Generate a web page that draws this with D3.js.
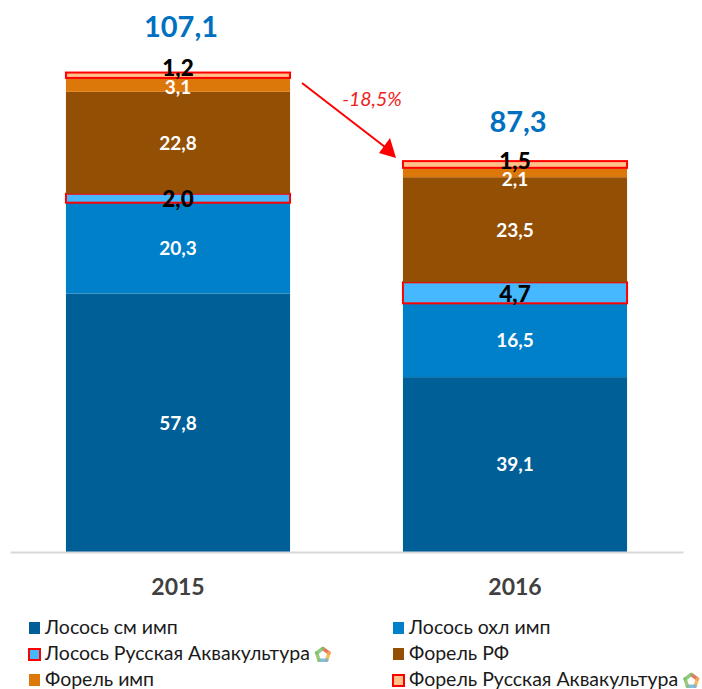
<!DOCTYPE html>
<html><head><meta charset="utf-8">
<script src="https://cdn.jsdelivr.net/npm/d3@7"></script>
<style>html,body{margin:0;padding:0;background:#fff}svg{display:block}text{font-family:Lato,sans-serif}</style>
</head><body><svg id="c" width="702" height="689"></svg>
<script>
const years = ["2015","2016"];
const seriesNames = ["Лосось см имп","Лосось охл имп","Лосось Русская Аквакультура","Форель РФ","Форель имп","Форель Русская Аквакультура"];
const seriesColors = ["#005f96","#0080c8","#45b8ff","#934f04","#dc780a","#ffc08a"];
const outlined = [false,false,true,false,false,true];
const labelColors = ["#fff","#fff","#000","#fff","#fff","#000"];
const values2015 = [57.8,20.3,2.0,22.8,3.1,1.2];
const values2016 = [39.1,16.5,4.7,23.5,2.1,1.5];
const totals = [107.1,87.3];
const changeLabel = "-18,5%";
const fmt = v => v.toFixed(1).replace(".",",");

const svg = d3.select("#c");
const x = d3.scaleBand().domain(years).range([10,683]).paddingInner(0.335).paddingOuter(0.166);
const yScale = d3.scaleLinear().domain([0,107.1]).range([552,73]);

const rows = years.map((yr,i)=>{
  const vals = i===0?values2015:values2016;
  const o={year:yr};
  seriesNames.forEach((s,j)=>o[s]=vals[j]);
  return o;
});
const stack = d3.stack().keys(seriesNames)(rows);

stack.forEach((layer,si)=>{
  layer.forEach(d=>{
    const X=x(d.data.year), W=x.bandwidth(), Y=yScale(d[1]), H=yScale(d[0])-yScale(d[1]);
    if(outlined[si]){
      svg.append("rect").attr("x",X).attr("y",Y).attr("width",W).attr("height",H)
        .attr("fill",seriesColors[si]).attr("stroke","#f00").attr("stroke-width",2);
    } else {
      svg.append("rect").attr("x",X).attr("y",Y).attr("width",W).attr("height",H)
        .attr("fill",seriesColors[si]);
    }
  });
});
// axis
const axis = d3.axisBottom(x).tickSize(0).tickPadding(27);
const ag = svg.append("g").attr("transform","translate(0,552)").call(axis);
ag.select(".domain").attr("stroke","#d9d9d9").attr("stroke-width",2);
ag.selectAll("text").attr("font-size",23).attr("font-weight",700).attr("fill","#404040").style("font-family","Lato,sans-serif");

// label nudges for the thin segments, which sit off-centre in the reference
const nudge = {"2015":{4:2,5:-7,2:1},"2016":{4:7,5:-4,2:1}};
stack.forEach((layer,si)=>{
  layer.forEach(d=>{
    const yr=d.data.year, v=d[1]-d[0];
    const big = outlined[si];
    const cy=(yScale(d[0])+yScale(d[1]))/2 + ((nudge[yr]||{})[si]||0);
    svg.append("text").attr("x",x(yr)+x.bandwidth()/2).attr("y",cy)
      .attr("dy","0.36em").attr("text-anchor","middle")
      .attr("font-size",big?22.5:19).attr("font-weight",big?900:700).attr("fill",labelColors[si]).text(fmt(v));
  });
});
// totals
years.forEach((yr,i)=>{
  svg.append("text").attr("x",x(yr)+x.bandwidth()/2+3).attr("y",yScale(totals[i])-(i?30:36))
    .attr("text-anchor","middle").attr("font-size",29).attr("font-weight",700).attr("fill","#0070c0").text(fmt(totals[i]));
});
// change arrow
svg.append("line").attr("x1",302).attr("y1",83).attr("x2",385).attr("y2",147).attr("stroke","#f00").attr("stroke-width",2);
svg.append("path").attr("d","M396,158 L379,153 L390,138 Z").attr("fill","#f00");
svg.append("text").attr("x",372).attr("y",106).attr("text-anchor","middle").attr("font-size",19.5).attr("font-style","italic").attr("fill","#f02020").text(changeLabel);

// pentagon logo after the "Русская Аквакультура" legend entries
function logo(cx,cy){
  const g=svg.append("g").attr("transform",`translate(${cx},${cy})`);
  const cols=["#ee5a45","#f2b04e","#6fb4dc","#8fc06a","#7cc46a"];
  const pts=d3.range(6).map(i=>{const a=-Math.PI/2+i*2*Math.PI/5;return [6.5*Math.cos(a),6.5*Math.sin(a)];});
  cols.forEach((c,i)=>{
    g.append("line").attr("x1",pts[i][0]).attr("y1",pts[i][1]).attr("x2",pts[i+1][0]).attr("y2",pts[i+1][1])
      .attr("stroke",c).attr("stroke-width",3.5).attr("stroke-linecap","round").attr("opacity",.85);
  });
}
// legend
const legendPos=[[29,628],[393,628],[29,654],[393,654],[29,680],[393,680]];
seriesNames.forEach((name,si)=>{
  const [lx,ly]=legendPos[si];
  if(outlined[si]){
    svg.append("rect").attr("x",lx).attr("y",ly-5).attr("width",11).attr("height",11)
      .attr("fill",seriesColors[si]).attr("stroke","#f00").attr("stroke-width",2);
  } else {
    svg.append("rect").attr("x",lx).attr("y",ly-6).attr("width",11).attr("height",12).attr("fill",seriesColors[si]);
  }
  const t=svg.append("text").attr("x",lx+16).attr("y",ly+6).attr("font-size",19.5).attr("fill","#1a1a1a").text(name);
  if(outlined[si]){
    const w=t.node().getComputedTextLength();
    logo(lx+16+w+13,ly+1);
  }
});
</script></body></html>
